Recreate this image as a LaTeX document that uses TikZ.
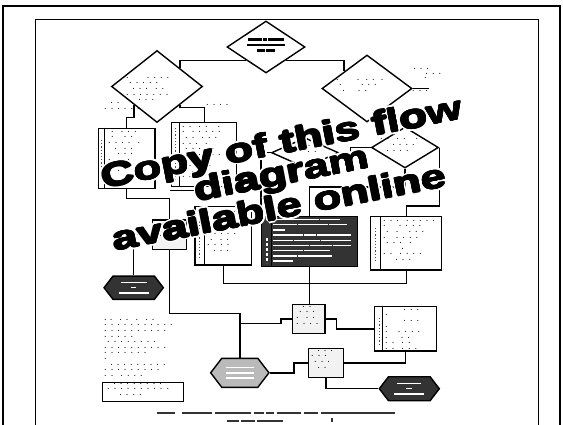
\documentclass[tikz,border=0pt]{standalone}
\usepackage{fontspec}
\usetikzlibrary{shapes.geometric,shapes.symbols,calc}
\newfontfamily\ovfont{Liberation Sans Bold}
\newcommand\kb[1]{\rule{#1pt}{2.2pt}}
\newcommand\wb[1]{\rule{#1pt}{1.4pt}}
\begin{document}
\begin{tikzpicture}[x=1pt,y=-1pt,
  ln/.style={line width=1.4pt},
  dia/.style={diamond, draw, line width=1.4pt, inner sep=0pt, fill=white},
  box/.style={rectangle, draw, line width=1.4pt, inner sep=0pt, fill=white},
  lbox/.style={box, fill=black!5},
  dbox/.style={box, fill=black!80},
  hexd/.style={signal, signal to=west and east, signal pointer angle=105, draw, line width=1.4pt, inner sep=0pt, fill=black!80},
  hexg/.style={hexd, fill=black!27},
  dt/.style={font=\fontsize{7}{5.6}\selectfont\bfseries, inner sep=0pt, align=left, anchor=north west},
  wt/.style={font=\fontsize{4}{5.2}\selectfont, text=white, inner sep=0pt, align=left},
  bt/.style={font=\fontsize{4}{5.6}\selectfont, text=black, inner sep=0pt, align=center},
  captxt/.style={font=\fontsize{4}{5}\selectfont, text=black!80, inner sep=0pt},
  ovt/.style={font=\ovfont\fontsize{33}{33}\selectfont, inner sep=0pt, rotate=11},
  ovh/.style={ovt, text=white}]
\useasboundingbox (0,0) rectangle (563,424);
\fill[white] (0,0) rectangle (563,424);
% frames
\draw[line width=2pt] (3,430) -- (3,5.5) -- (559.5,5.5) -- (559.5,430);
\draw[line width=1.3pt] (35.3,430) -- (35.3,19.3) -- (538.5,19.3) -- (538.5,430);

% diamonds
\node[dia, minimum width=78pt, minimum height=52pt] (D0) at (266,47) {};
\node[dia, minimum width=91pt, minimum height=72pt] (D1) at (157,86.5) {};
\node[dia, minimum width=90pt, minimum height=67pt] (D2) at (367,88.5) {};
\node[dia, minimum width=67pt, minimum height=30pt] (D3) at (305,152.7) {};
\node[dia, minimum width=67pt, minimum height=41pt] (D4) at (405,147.5) {};

% boxes
\node[box, minimum width=56.7pt, minimum height=60pt] (B1) at (126.7,158.3) {};
\node[box, minimum width=65pt, minimum height=64.4pt] (B2) at (204.2,154.5) {};
\node[lbox, minimum width=34pt, minimum height=29.3pt] (B5) at (169.7,234.7) {};
\node[box, minimum width=56.7pt, minimum height=58.3pt] (B6) at (223.3,235.8) {};
\node[dbox, minimum width=95.6pt, minimum height=50pt] (B7d) at (309.5,241.7) {};
\node[box, minimum width=71pt, minimum height=53.3pt] (B7) at (406.2,243.3) {};
\node[lbox, minimum width=32.7pt, minimum height=29pt] (B8) at (308.7,318.8) {};
\node[box, minimum width=62.4pt, minimum height=44.3pt] (B9) at (405.5,328.8) {};
\node[lbox, minimum width=35pt, minimum height=29pt] (B10) at (325.8,362.8) {};
\node[box, minimum width=81pt, minimum height=19.4pt] (TB) at (142.8,392) {};

% hexagons
\node[hexd, minimum width=59.3pt, minimum height=23.3pt] (H1) at (133.7,287.7) {};
\node[hexg, minimum width=58.3pt, minimum height=29pt] (H2) at (239.8,372.8) {};
\node[hexd, minimum width=60pt, minimum height=24pt] (H3) at (409.3,388.7) {};

% strips
\foreach \b/\s in {B1/7,B2/8,B6/10,B7d/10,B7/10,B9/9}
  \draw[line width=1pt] ([xshift=\s pt]\b.north west) -- ([xshift=\s pt]\b.south west);
\draw[white, line width=1.6pt, dash pattern=on 2.5pt off 2.5pt] (266.7,238) -- (266.7,263);
\foreach \x/\ya/\yb in {101.5/140/180, 175.5/128/180, 199/215/258, 375/228/262, 379/318/346}
  \draw[black!70, line width=1pt, dash pattern=on 1.2pt off 2pt] (\x,\ya) -- (\x,\yb);

% connectors
\draw[ln] (D0.south west) -| (D1.north east);
\draw[ln] (D0.south east) -| (D2.north west);
\draw[ln] (D2.east) -- ++(16,0) coordinate (D2s);
\draw[ln] (D1.south west) |- ([yshift=10pt]B1.north) -- (B1.north);
\draw[ln] (D1.south east) |- ([yshift=14pt]B2.north) -- (B2.north);
\draw[ln] (B1.south) |- ([yshift=21pt]B5.north) -- (B5.north);
\draw[ln] ([xshift=-10pt]B2.south) |- ([yshift=29pt]B5.north);
\draw[ln] (D3.west) -| (B7d.north west);
\draw[ln] (D3.east) -- ++(11,0) |- (D4.west);
\draw[ln] (D4.east) |- ([yshift=10pt]B7.north) -- (B7.north);
\draw[ln] (D4.south) |- ([yshift=29pt]B7d.north) -- (B7d.north);
\draw[ln] (B6.south) |- ([yshift=-13pt]B7.south) -- (B7.south);
\draw[ln] (B7d.south) -- (B7d.south |- B8.north);
\draw[ln] (B5.west) -| (H1.north);
\draw[ln] (B5.south) |- ([yshift=44pt]H2.north) -- (H2.north);
\draw[ln] ([yshift=34pt]H2.north) -- ++(41,0) |- (B8.west);
\draw[ln] (B8.east) -- ++(11,0) |- (B9.west);
\draw[ln] (H2.east) -- ++(24,0) |- (B10.west);
\draw[ln] (B10.east) -| (B9.south);
\draw[ln] (B10.south) |- (H3.west);

% texts in diamonds
\node[bt, font=\fontsize{4}{5.5}\selectfont] (t0) at (266,45) {\kb{14}\,\kb{4}\,\kb{16}\\ \kb{20}\,\kb{18}\\ \kb{8}\,\kb{9}};
\node[dt] (t1) at (126,77) {.\ \ \ \ \ \ . . . .\\ \ . . . . .\\ \ \ . . . \ . .\\ . . . . . . .\\ \ \ \ \ . . .};
\node[dt] (t2) at (336,79) {.\ \ \ \ \ \ .\ \ . .\ \ .\\ \ . \ \ \ \ \ . . .\\ \ \ . \ \ \ . .};
\node[dt] (t3) at (288,140) {\ \ \ . . .\\ . . . . .\\ \ \ . . . .};
\node[dt] (t4) at (380,133) {\ \ \ \ \ .\\ . . \ . . \ \ .\\ \ \ \ \ . . . .\\ \ \ . . . .};

% texts in boxes
\node[dt] (t5) at (108,131) {\ . \ . . .\\ \ . \ \ . .\\ . . . . \ .\\ \ \ . \ . .\\ \ \ \ . . .\\ . \ \ . .\\ \ \ . . .\\ \ \ \ .};
\node[dt] (t6) at (182,126) {. . \ . . \ \ .\\ . \ . . . . .\\ \ . . \ . . .\\ . . . \ .\\ \ . . . . .\\ . . \ . . . .\\ \ \ . . .\\ . . . . .\\ \ . . \ \ .\\ . . .};
\node[dt] (t7) at (156,224) {\ . . .\\ . . . .\\ \ . .};
\node[dt] (t8) at (207,211) {. \ \ . . .\\ \ . . . .\\ . . \ . .\\ \ \ . . .\\ . . . . .\\ \ . \ . .\\ . . . .\\ \ \ . . .};
\node[wt, anchor=north west] (t9) at (273,218.5) {\wb{46}\,\wb{20}\\ \wb{24}\,\wb{30}\,\wb{18}\\ \wb{12}\\ \wb{30}\,\wb{12}\,\wb{34}\\ \wb{20}\,\wb{26}\,\wb{30}\\ \wb{36}\,\wb{22}\,\wb{18}\\ \wb{30}\,\wb{26}\\ \wb{24}\,\wb{34}\\ \wb{20}};
\node[dt] (t10) at (383,220) {. . . \ . . . . .\\ . \ \ \ . . . .\\ \ . \ . \ \ . . .\\ . \ \ . . . .\\ \ . . . \ .\\ \ \ \ \ \ \ .\\ . . \ . . . .\\ \ \ \ \ . . .};
\node[dt] (t11) at (296,306) {\ \ . .\\ \ . . .\\ . \ . .\\ . . . .};
\node[dt] (t12) at (385,309) {\ \ \ \ \ \ . . .\\ .\\ \ \ \ \ \ \ . . .\\ .\\ . \ \ . . . .\\ . \ \ \ . .\\ . . \ . .\\ . . \ . . .};
\node[dt] (t13) at (311,350) {\ \ . . .\\ . . .\\ \ . . .\\ \ \ . .};
\node[dt] (t14) at (104,319) {.\ . \ . . \ . \ . .\\ . . . . . . . . . . .\\ . . . . . . . . . .\\ . . . . .\\ \ . . . . . . . .\\ . . . . . . . . . .\\ . . . . . . .\\ .\\ \ \ . . . . . . . . .\\ . . . . . . . . .\\ . . \ . . . .};
\node[dt] (t15) at (107,383) {\ \ . . . . . . . .\\ . . . . . . . . . .\\ \ \ \ \ . . . .};

% hexagon texts
\node[wt, align=center] (t16) at (H1) {\wb{26}\\ \wb{5}\\ \wb{30}};
\node[wt, align=center] (t17) at (H2) {\wb{28}\\ \wb{28}\\ \wb{28}};
\node[wt, align=center] (t18) at (H3) {\wb{24}\\ \wb{6}\\ \wb{30}};

% small labels
\node[dt] (l1) at (104,102.5) {\ \ . .\\ . . . . . .};
\node[dt] (l2) at (206,104) {. . . .};
\node[dt] (l3) at (407,68) {\ \ . . .\\ \ \ \ \ \ \ . . .};
\node[dt] (l4) at (424,77.5) {.};
\node[dt] (l5) at (412,90) {. . .};

% caption
\node[captxt, anchor=west] (c1) at (157,413) {\kb{18}\hspace{7pt}\kb{30}\hspace{3pt}\kb{36}\hspace{3pt}\kb{10}\hspace{2pt}\kb{8}\hspace{3pt}\kb{24}\hspace{3pt}\kb{14}\hspace{3pt}\kb{74}};
\node[captxt, anchor=west] (c2) at (227,419.7) {\kb{12}\hspace{2pt}\kb{14}\hspace{2pt}\kb{26}\hspace{48pt}\rule{1.3pt}{4pt}};

% overlay text: white halo, then heavy black
\foreach \n/\px/\py/\s in {1/282/145/Copy of this flow, 2/282/176/diagram, 3/279/207/available online}{
  \foreach \a in {0,30,...,330}
    \node[ovh] (oh\n-\a) at ($(\px,\py)+(\a:2.6)$) {\scalebox{1.38}[1]{\s}};
}
\foreach \n/\px/\py/\s in {1/282/145/Copy of this flow, 2/282/176/diagram, 3/279/207/available online}{
  \foreach \a in {0,45,...,315}
    \node[ovt] (ob\n-\a) at ($(\px,\py)+(\a:0.8)$) {\scalebox{1.38}[1]{\s}};
  \node[ovt] (o\n) at (\px,\py) {\scalebox{1.38}[1]{\s}};
}
\end{tikzpicture}
\end{document}
